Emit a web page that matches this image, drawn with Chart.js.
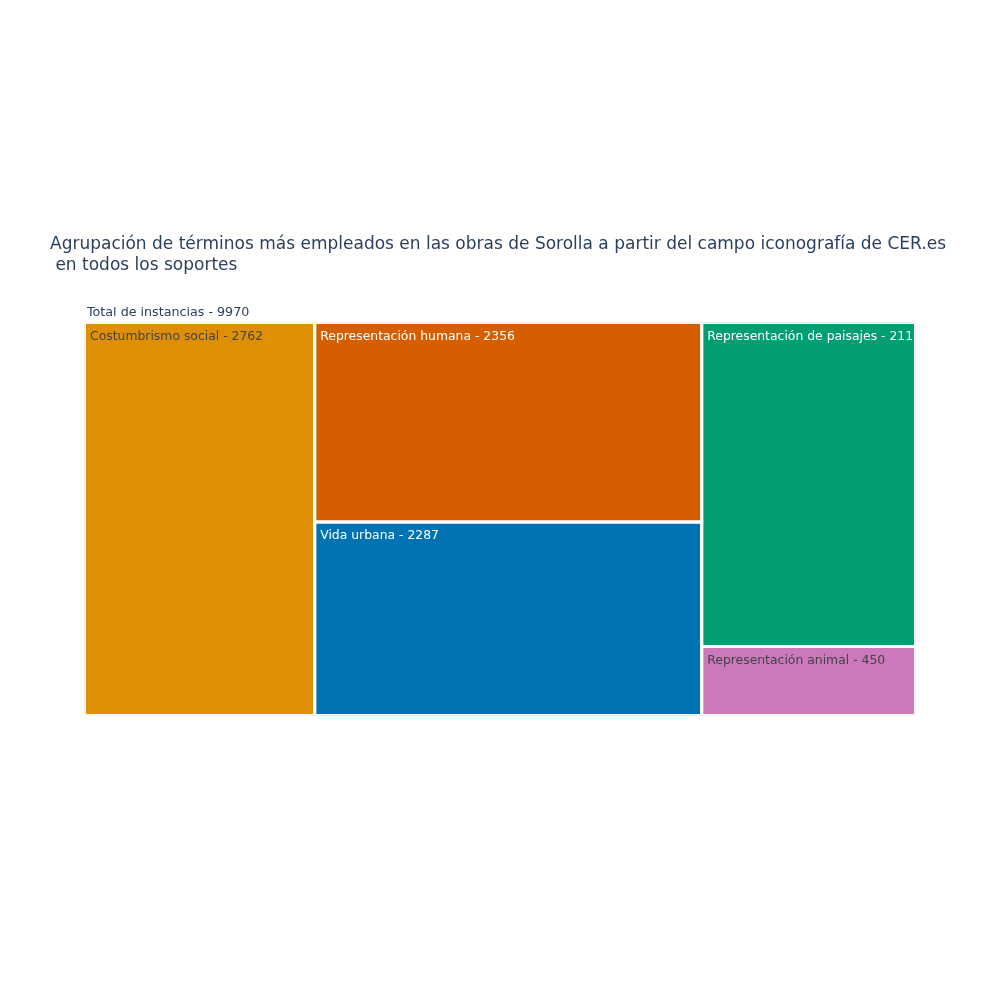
<!DOCTYPE html>
<html>
<head>
<meta charset="utf-8">
<script src="https://cdn.jsdelivr.net/npm/chart.js@4.4.0/dist/chart.umd.min.js"></script>
<style>
html,body{margin:0;padding:0;background:#ffffff;}
#wrap{width:1000px;height:1000px;}
</style>
</head>
<body>
<div id="wrap"><canvas id="c" width="1000" height="1000"></canvas></div>
<script>
// ---------------- data ----------------
const titleLines = [
  'Agrupación de términos más empleados en las obras de Sorolla a partir del campo iconografía de CER.es',
  ' en todos los soportes'
];
const rootLabel = 'Total de instancias';
const rootValue = 9970;
const categories = ['Costumbrismo social', 'Representación humana', 'Vida urbana', 'Representación de paisajes', 'Representación animal'];
const values = [2762, 2356, 2287, 2115, 450];
const colors = ['#DE8F05', '#D55E00', '#0173B2', '#029E73', '#CC78BC'];
const textColors = ['#444444', '#ffffff', '#ffffff', '#ffffff', '#444444'];
// treemap columns (indices of categories that share a column, in order)
const columnGroups = [[0], [1, 2], [3, 4]];

// ---------------- layout from values (fractions of the root) ----------------
const total = values.reduce((a, b) => a + b, 0);
const cells = [];
let xCursor = 0;
columnGroups.forEach(group => {
  const colSum = group.reduce((a, i) => a + values[i], 0);
  const w = colSum / total;
  let yCursor = 0;
  group.forEach(i => {
    const h = values[i] / colSum;
    cells.push({ i, x0: xCursor, x1: xCursor + w, y0: yCursor, y1: yCursor + h });
    yCursor += h;
  });
  xCursor += w;
});
cells.sort((a, b) => a.i - b.i);

const datasets = cells.map(c => ({
  label: categories[c.i],
  data: [
    { x: c.x0, y: c.y0 }, { x: c.x1, y: c.y0 }, { x: c.x1, y: c.y1 },
    { x: c.x0, y: c.y1 }, { x: c.x0, y: c.y0 }
  ],
  showLine: true,
  fill: 'shape',
  backgroundColor: colors[c.i],
  borderColor: '#ffffff',
  borderWidth: 3,
  pointRadius: 0,
  pointHoverRadius: 0,
  tension: 0
}));

const FONT = '"DejaVu Sans", Verdana, sans-serif';

const cellLabels = {
  id: 'cellLabels',
  afterDatasetsDraw(chart) {
    const { ctx, scales: { x, y } } = chart;
    ctx.save();
    ctx.textBaseline = 'alphabetic';
    ctx.textAlign = 'left';
    ctx.font = '12.7px ' + FONT;
    ctx.fillStyle = '#2a3f5f';
    ctx.fillText(rootLabel + ' - ' + rootValue, x.getPixelForValue(0) + 2.5, y.getPixelForValue(0) - 6.5);
    ctx.font = '12.4px ' + FONT;
    cells.forEach(c => {
      const px0 = x.getPixelForValue(c.x0), px1 = x.getPixelForValue(c.x1);
      const py0 = y.getPixelForValue(c.y0), py1 = y.getPixelForValue(c.y1);
      ctx.save();
      ctx.beginPath();
      ctx.rect(px0 + 1.5, py0 + 1.5, px1 - px0 - 3, py1 - py0 - 3);
      ctx.clip();
      ctx.fillStyle = textColors[c.i];
      ctx.fillText(categories[c.i] + ' - ' + values[c.i], px0 + 5.5, py0 + 17);
      ctx.restore();
    });
    ctx.restore();
  }
};

const spacer = w => ({
  display: true,
  grid: { display: false },
  border: { display: false },
  ticks: { display: false },
  afterFit: s => { s.width = w; }
});

new Chart(document.getElementById('c'), {
  type: 'scatter',
  data: { datasets },
  options: {
    responsive: false,
    animation: false,
    events: [],
    layout: { padding: { left: 50, right: 50, top: 234.5, bottom: 284.5 } },
    scales: {
      x: { type: 'linear', min: 0, max: 1, display: false },
      y: Object.assign({ type: 'linear', min: 0, max: 1, reverse: true, position: 'left' }, spacer(34.5)),
      yRight: Object.assign({ type: 'linear', min: 0, max: 1, position: 'right' }, spacer(34.5))
    },
    plugins: {
      legend: { display: false },
      tooltip: { enabled: false },
      filler: { drawTime: 'beforeDatasetsDraw' },
      title: {
        display: true,
        text: titleLines,
        align: 'start',
        color: '#2a3f5f',
        font: { family: FONT, size: 17, weight: 'normal', lineHeight: 21 / 17 },
        padding: { top: 0, bottom: 46 }
      }
    }
  },
  plugins: [cellLabels]
});
</script>
</body>
</html>
